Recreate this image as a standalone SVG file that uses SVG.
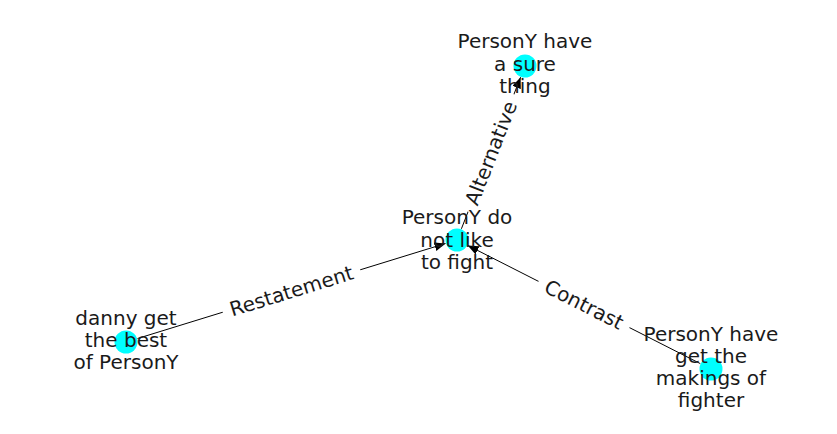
<svg xmlns="http://www.w3.org/2000/svg" width="837" height="434" viewBox="0 0 837 434">
<style>
.edge{stroke:#000;stroke-width:1;fill:none}
.node{fill:#00ffff}
.lbl{font-family:"DejaVu Sans",sans-serif;font-size:20px;fill:#1a1a1a;text-anchor:middle}
.box{fill:#fff;stroke:none}
</style>
<defs>
<marker id="arr" markerUnits="userSpaceOnUse" markerWidth="12" markerHeight="10" refX="11" refY="4.5" orient="auto">
<path d="M0,0 L11,4.5 L0,9 z" fill="#000"/>
</marker>
</defs>
<rect width="837" height="434" fill="#fff"/>
<g id="connectors">
<line class="edge" x1="137.5" y1="338.5" x2="445.5" y2="243.5" marker-end="url(#arr)"/>
<line class="edge" x1="700.3" y1="363.6" x2="467.7" y2="245.4" marker-end="url(#arr)"/>
<line class="edge" x1="461.4" y1="228.8" x2="520.6" y2="77.2" marker-end="url(#arr)"/>
<g transform="translate(291.5,291) rotate(-17.13)"><rect class="box" x="-72" y="-12" width="144" height="24" rx="4"/><text class="lbl" x="0" y="7">Restatement</text></g>
<g transform="translate(584,304.5) rotate(26.93)"><rect class="box" x="-51" y="-12" width="102" height="24" rx="4"/><text class="lbl" x="0" y="7">Contrast</text></g>
<g transform="translate(491,153) rotate(-68.66)"><rect class="box" x="-63" y="-12" width="126" height="24" rx="4"/><text class="lbl" x="0" y="7">Alternative</text></g>
</g>
<g id="n_top"><circle class="node" cx="525" cy="66" r="11.5"/><text class="lbl" x="525"><tspan x="525" y="48">PersonY have</tspan><tspan x="525" y="70.5">a sure</tspan><tspan x="525" y="93">thing</tspan></text></g>
<g id="n_center"><circle class="node" cx="457" cy="240" r="11.5"/><text class="lbl" x="457"><tspan x="457" y="224">PersonY do</tspan><tspan x="457" y="246.5">not like</tspan><tspan x="457" y="269">to fight</tspan></text></g>
<g id="n_left"><circle class="node" cx="126" cy="342" r="11.5"/><text class="lbl" x="126"><tspan x="126" y="325">danny get</tspan><tspan x="126" y="347">the best</tspan><tspan x="126" y="369">of PersonY</tspan></text></g>
<g id="n_right"><circle class="node" cx="711" cy="369" r="11.5"/><text class="lbl" x="711"><tspan x="711" y="341">PersonY have</tspan><tspan x="711" y="363">get the</tspan><tspan x="711" y="385">makings of</tspan><tspan x="711" y="407">fighter</tspan></text></g>
</svg>
